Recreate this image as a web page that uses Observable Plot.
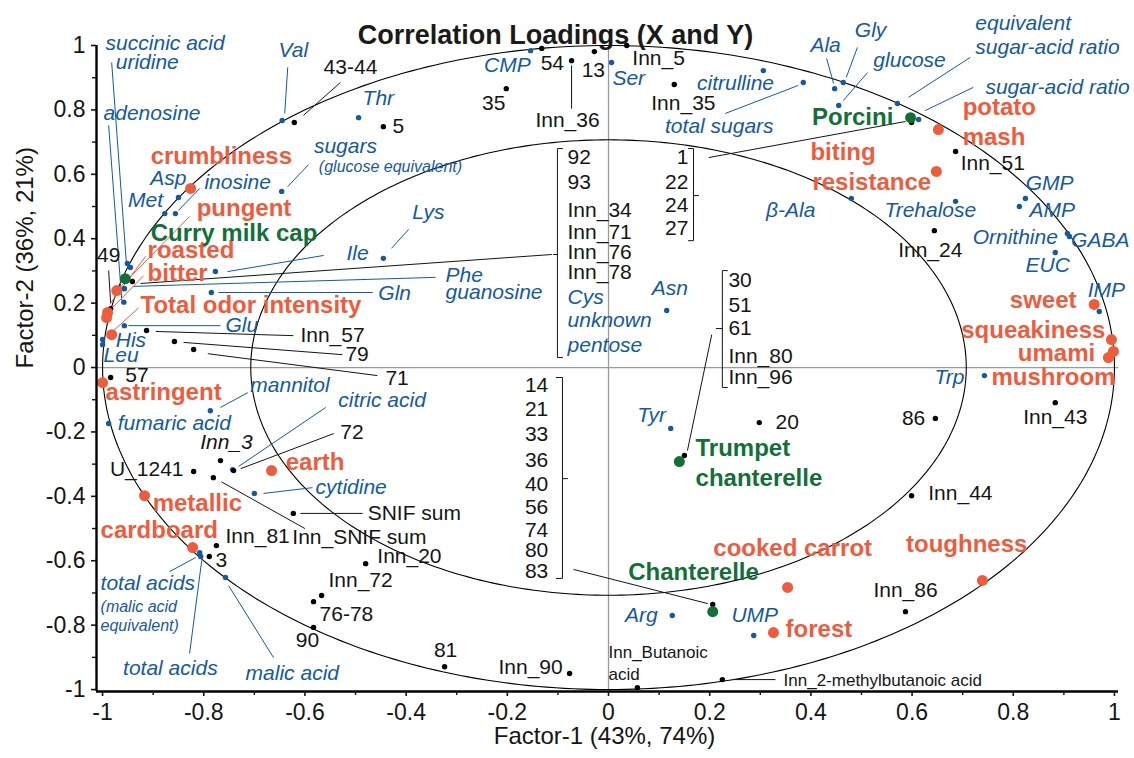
<!DOCTYPE html>
<html><head><meta charset="utf-8">
<script src="https://cdn.jsdelivr.net/npm/d3@7"></script>
<script src="https://cdn.jsdelivr.net/npm/@observablehq/plot@0.6"></script>
<style>body{margin:0;background:#fff;} #chart svg{display:block;}</style>
</head><body><div id="chart"></div>
<script>
// ---------- DATA (Factor-1, Factor-2 loadings) ----------
const compounds = [ // blue, chemical compounds
 {name:"Val",f1:-0.645,f2:0.767},{name:"Thr",f1:-0.494,f2:0.776},{name:"CMP",f1:-0.154,f2:0.984},
 {name:"Ser",f1:0.006,f2:0.947},{name:"citrulline",f1:0.306,f2:0.922},{name:"total sugars",f1:0.385,f2:0.885},
 {name:"Ala",f1:0.447,f2:0.866},{name:"Gly",f1:0.464,f2:0.885},{name:"glucose",f1:0.455,f2:0.814},
 {name:"equivalent sugar-acid ratio",f1:0.571,f2:0.820},{name:"sugar-acid ratio",f1:0.613,f2:0.770},
 {name:"β-Ala",f1:0.480,f2:0.525},{name:"Trehalose",f1:0.686,f2:0.516},{name:"GMP",f1:0.824,f2:0.525},
 {name:"AMP",f1:0.812,f2:0.500},{name:"Ornithine",f1:0.907,f2:0.416},{name:"GABA",f1:0.911,f2:0.407},
 {name:"EUC",f1:0.883,f2:0.357},{name:"IMP",f1:0.970,f2:0.174},{name:"Trp",f1:0.743,f2:-0.025},
 {name:"Asn",f1:0.115,f2:0.177},{name:"Tyr",f1:0.123,f2:-0.189},{name:"Arg",f1:0.126,f2:-0.770},
 {name:"UMP",f1:0.287,f2:-0.832},{name:"Lys",f1:-0.445,f2:0.339},{name:"sugars (glucose equivalent)",f1:-0.646,f2:0.547},
 {name:"inosine",f1:-0.856,f2:0.478},{name:"Asp",f1:-0.850,f2:0.528},{name:"Met",f1:-0.877,f2:0.478},
 {name:"succinic acid",f1:-0.945,f2:0.311},{name:"uridine",f1:-0.951,f2:0.323},{name:"adenosine",f1:-0.958,f2:0.203},
 {name:"Ile",f1:-0.777,f2:0.298},{name:"Phe",f1:-0.957,f2:0.245},{name:"guanosine",f1:-0.957,f2:0.245},
 {name:"Gln",f1:-0.785,f2:0.233},{name:"Glu",f1:-0.957,f2:0.130},{name:"His",f1:-1.0,f2:0.087},
 {name:"Leu",f1:-1.0,f2:0.071},{name:"mannitol",f1:-0.787,f2:-0.134},{name:"fumaric acid",f1:-0.988,f2:-0.174},
 {name:"citric acid",f1:-0.743,f2:-0.317},{name:"cytidine",f1:-0.700,f2:-0.391},
 {name:"total acids (malic acid equivalent)",f1:-0.808,f2:-0.575},{name:"total acids",f1:-0.806,f2:-0.587},
 {name:"malic acid",f1:-0.757,f2:-0.652}
];
const volatiles = [ // black, volatile compounds
 {name:"43-44",f1:-0.621,f2:0.761},{name:"5",f1:-0.445,f2:0.748},{name:"35",f1:-0.202,f2:0.866},
 {name:"54",f1:-0.132,f2:0.991},{name:"Inn_36",f1:-0.073,f2:0.953},{name:"13",f1:-0.028,f2:0.981},
 {name:"Inn_5",f1:0.036,f2:1.0},{name:"Inn_35",f1:0.130,f2:0.879},{name:"Inn_51",f1:0.686,f2:0.671},
 {name:"Inn_24",f1:0.644,f2:0.425},{name:"Inn_43",f1:0.883,f2:-0.109},{name:"86",f1:0.646,f2:-0.158},
 {name:"Inn_44",f1:0.599,f2:-0.398},{name:"20",f1:0.298,f2:-0.171},{name:"Inn_86",f1:0.587,f2:-0.758},
 {name:"Inn_Butanoic acid",f1:0.057,f2:-0.994},{name:"Inn_2-methylbutanoic acid",f1:0.225,f2:-0.969},
 {name:"Inn_90",f1:-0.077,f2:-0.950},{name:"81",f1:-0.324,f2:-0.929},{name:"90",f1:-0.583,f2:-0.807},
 {name:"Inn_72",f1:-0.567,f2:-0.708},{name:"76-78",f1:-0.583,f2:-0.727},{name:"Inn_20",f1:-0.480,f2:-0.609},
 {name:"SNIF sum",f1:-0.623,f2:-0.453},{name:"Inn_SNIF sum",f1:-0.781,f2:-0.342},{name:"Inn_81",f1:-0.775,f2:-0.553},
 {name:"3",f1:-0.789,f2:-0.587},{name:"U_1241",f1:-0.820,f2:-0.323},{name:"Inn_3",f1:-0.767,f2:-0.289},
 {name:"72",f1:-0.741,f2:-0.320},{name:"57",f1:-0.984,f2:-0.031},{name:"Inn_57",f1:-0.913,f2:0.115},
 {name:"79",f1:-0.858,f2:0.081},{name:"71",f1:-0.820,f2:0.056},{name:"49",f1:-0.984,f2:0.183}
];
// groups of volatiles/compounds sharing one loading position
const groupA = ["92","93","Inn_34","Inn_71","Inn_76","Inn_78"];
const groupAblue = ["Cys","unknown","pentose"];
const groupB = ["1","22","24","27"];
const groupC = ["30","51","61","Inn_80","Inn_96"];
const groupD = ["14","21","33","36","40","56","74","80","83"];
const groups = [
 {name:"A",f1:-0.941,f2:0.267},{name:"B",f1:0.599,f2:0.761},
 {name:"C",f1:0.150,f2:-0.273},{name:"D",f1:0.206,f2:-0.736}
];
const attributes = [ // red, sensory attributes
 {name:"crumbliness",f1:-0.826,f2:0.556},{name:"pungent",f1:-0.972,f2:0.239},{name:"roasted",f1:-0.990,f2:0.171},
 {name:"bitter",f1:-0.992,f2:0.155},{name:"Total odor intensity",f1:-0.982,f2:0.102},{name:"astringent",f1:-1.0,f2:-0.047},
 {name:"earth",f1:-0.666,f2:-0.320},{name:"metallic",f1:-0.917,f2:-0.398},{name:"cardboard",f1:-0.822,f2:-0.559},
 {name:"potato mash",f1:0.652,f2:0.739},{name:"biting resistance",f1:0.648,f2:0.609},{name:"sweet",f1:0.960,f2:0.196},
 {name:"squeakiness",f1:0.994,f2:0.087},{name:"umami",f1:0.998,f2:0.050},{name:"mushroom",f1:0.988,f2:0.031},
 {name:"cooked carrot",f1:0.354,f2:-0.683},{name:"forest",f1:0.326,f2:-0.823},{name:"toughness",f1:0.739,f2:-0.661}
];
const samples = [ // green, mushroom species
 {name:"Porcini",f1:0.597,f2:0.776},{name:"Curry milk cap",f1:-0.955,f2:0.276},
 {name:"Trumpet chanterelle",f1:0.140,f2:-0.292},{name:"Chanterelle",f1:0.206,f2:-0.758}
];
const xTicks = [-1,-0.8,-0.6,-0.4,-0.2,0,0.2,0.4,0.6,0.8,1];
const xMinor = [-0.9,-0.7,-0.5,-0.3,-0.1,0.1,0.3,0.5,0.7,0.9];
const yTicks = [-1,-0.8,-0.6,-0.4,-0.2,0,0.2,0.4,0.6,0.8,1];
const yMinor = [-0.9,-0.7,-0.5,-0.3,-0.1,0.1,0.3,0.5,0.7,0.9];

// ---------- ANNOTATION LAYOUT (label anchor, text-anchor, style, leader line) ----------
const labelLayout = [
 ["Val",-0.623,0.984,"middle","b",[-0.634,0.932,-0.640,0.789]],
 ["Thr",-0.455,0.835,"middle","b"],
 ["CMP",-0.200,0.938,"middle","b"],
 ["Ser",0.040,0.898,"middle","b"],
 ["citrulline",0.251,0.882,"middle","b"],
 ["total sugars",0.219,0.748,"middle","b",[0.375,0.876,0.231,0.789]],
 ["Ala",0.429,1.0,"middle","b",[0.445,0.882,0.431,0.960]],
 ["Gly",0.518,1.047,"middle","b",[0.470,0.901,0.492,0.994]],
 ["glucose",0.595,0.953,"middle","b",[0.464,0.829,0.512,0.916]],
 ["equivalent",0.725,1.068,"start","b",[0.593,0.839,0.715,0.963]],
 ["sugar-acid ratio",0.725,0.994,"start","b"],
 ["sugar-acid ratio",0.745,0.870,"start","b",[0.626,0.798,0.721,0.870]],
 ["β-Ala",0.360,0.488,"middle","b"],
 ["Trehalose",0.636,0.488,"middle","b"],
 ["GMP",0.872,0.571,"middle","b"],
 ["AMP",0.877,0.488,"middle","b"],
 ["Ornithine",0.804,0.404,"middle","b"],
 ["GABA",0.972,0.394,"middle","b"],
 ["EUC",0.868,0.317,"middle","b"],
 ["IMP",0.984,0.239,"middle","b"],
 ["Trp",0.674,-0.031,"middle","b"],
 ["Asn",0.121,0.245,"middle","b"],
 ["Tyr",0.085,-0.149,"middle","b"],
 ["Arg",0.065,-0.770,"middle","b"],
 ["UMP",0.289,-0.770,"middle","b"],
 ["Lys",-0.356,0.481,"middle","b",[-0.429,0.370,-0.395,0.429]],
 ["sugars",-0.520,0.686,"middle","b",[-0.634,0.562,-0.593,0.630]],
 ["(glucose equivalent)",-0.431,0.624,"middle","bs"],
 ["inosine",-0.733,0.575,"middle","b",[-0.850,0.488,-0.808,0.556]],
 ["Asp",-0.870,0.587,"middle","b"],
 ["Met",-0.915,0.519,"middle","b"],
 ["succinic acid",-0.994,1.006,"start","b"],
 ["uridine",-0.974,0.947,"start","b",[-0.982,0.947,-0.953,0.326]],
 ["adenosine",-0.998,0.789,"start","b",[-0.988,0.752,-0.962,0.208]],
 ["Ile",-0.496,0.354,"middle","b",[-0.753,0.298,-0.563,0.348]],
 ["Phe",-0.322,0.286,"start","b",[-0.939,0.252,-0.342,0.280]],
 ["guanosine",-0.322,0.233,"start","b"],
 ["Gln",-0.455,0.230,"start","b",[-0.771,0.233,-0.466,0.233]],
 ["Glu",-0.757,0.130,"start","b",[-0.949,0.130,-0.767,0.130]],
 ["His",-0.974,0.084,"start","b"],
 ["Leu",-0.998,0.037,"start","b"],
 ["mannitol",-0.708,-0.056,"start","b",[-0.767,-0.124,-0.713,-0.078]],
 ["fumaric acid",-0.970,-0.174,"start","b"],
 ["citric acid",-0.534,-0.102,"start","b",[-0.731,-0.307,-0.559,-0.124]],
 ["cytidine",-0.579,-0.373,"start","b",[-0.682,-0.391,-0.585,-0.373]],
 ["total acids",-1.004,-0.671,"start","b",[-0.816,-0.590,-0.868,-0.634]],
 ["(malic acid",-1.004,-0.742,"start","bs"],
 ["equivalent)",-1.004,-0.801,"start","bs"],
 ["total acids",-0.866,-0.935,"middle","b",[-0.804,-0.599,-0.828,-0.888]],
 ["malic acid",-0.625,-0.950,"middle","b",[-0.751,-0.677,-0.662,-0.901]],
 // black
 ["43-44",-0.510,0.932,"middle","k",[-0.603,0.783,-0.530,0.885]],
 ["5",-0.427,0.748,"start","k"],
 ["35",-0.227,0.820,"middle","k"],
 ["54",-0.111,0.944,"middle","k"],
 ["Inn_36",-0.081,0.767,"middle","k",[-0.073,0.938,-0.073,0.804]],
 ["13",-0.030,0.922,"middle","k"],
 ["Inn_5",0.047,0.960,"start","k"],
 ["Inn_35",0.148,0.820,"middle","k"],
 ["Inn_51",0.696,0.634,"start","k"],
 ["Inn_24",0.636,0.363,"middle","k"],
 ["Inn_43",0.883,-0.155,"middle","k"],
 ["86",0.603,-0.158,"middle","k"],
 ["Inn_44",0.632,-0.391,"start","k"],
 ["20",0.330,-0.171,"start","k"],
 ["Inn_86",0.587,-0.693,"middle","k"],
 ["Inn_Butanoic",0.0,-0.885,"start","ks"],
 ["acid",0.0,-0.953,"start","ks"],
 ["Inn_2-methylbutanoic acid",0.346,-0.972,"start","ks",[0.247,-0.969,0.330,-0.969]],
 ["Inn_90",-0.154,-0.932,"middle","k"],
 ["81",-0.322,-0.879,"middle","k"],
 ["90",-0.595,-0.848,"middle","k"],
 ["Inn_72",-0.490,-0.661,"middle","k"],
 ["76-78",-0.518,-0.767,"middle","k"],
 ["Inn_20",-0.457,-0.587,"start","k"],
 ["SNIF sum",-0.476,-0.453,"start","k",[-0.609,-0.453,-0.486,-0.453]],
 ["Inn_SNIF sum",-0.625,-0.528,"start","k",[-0.765,-0.355,-0.600,-0.500]],
 ["Inn_81",-0.757,-0.525,"start","k"],
 ["3",-0.777,-0.599,"start","k"],
 ["U_1241",-0.840,-0.317,"end","k"],
 ["Inn_3",-0.755,-0.233,"middle","ki"],
 ["72",-0.530,-0.202,"start","k",[-0.727,-0.314,-0.543,-0.205]],
 ["57",-0.955,-0.025,"start","k"],
 ["Inn_57",-0.609,0.099,"start","k",[-0.895,0.112,-0.623,0.099]],
 ["79",-0.520,0.040,"start","k",[-0.840,0.078,-0.526,0.040]],
 ["71",-0.441,-0.034,"start","k",[-0.792,0.043,-0.457,-0.025]],
 ["49",-0.988,0.348,"middle","k",[-0.988,0.301,-0.984,0.199]],
 // red
 ["crumbliness",-0.905,0.655,"start","r"],
 ["pungent",-0.814,0.494,"start","r",[-0.828,0.469,-0.966,0.248]],
 ["roasted",-0.911,0.363,"start","r",[-0.915,0.345,-0.986,0.196]],
 ["bitter",-0.911,0.292,"start","r",[-0.919,0.285,-0.988,0.174]],
 ["Total odor intensity",-0.925,0.193,"start","r",[-0.929,0.185,-0.978,0.115]],
 ["astringent",-0.994,-0.078,"start","r"],
 ["earth",-0.638,-0.295,"start","r"],
 ["metallic",-0.901,-0.422,"start","r"],
 ["cardboard",-1.004,-0.506,"start","r"],
 ["potato",0.700,0.807,"start","r"],
 ["mash",0.700,0.714,"start","r"],
 ["biting",0.399,0.668,"start","r"],
 ["resistance",0.403,0.575,"start","r"],
 ["sweet",0.925,0.208,"end","r"],
 ["squeakiness",0.982,0.115,"end","r"],
 ["umami",0.962,0.043,"end","r"],
 ["mushroom",1.002,-0.031,"end","r"],
 ["cooked carrot",0.364,-0.562,"middle","r"],
 ["forest",0.350,-0.814,"start","r"],
 ["toughness",0.708,-0.550,"middle","r"],
 // green
 ["Porcini",0.563,0.776,"end","g"],
 ["Curry milk cap",-0.905,0.416,"start","g"],
 ["Trumpet",0.172,-0.252,"start","g"],
 ["chanterelle",0.172,-0.345,"start","g"],
 ["Chanterelle",0.168,-0.637,"middle","g"]
];
// group list positions
const groupLayout = [
 {names:groupA, x:-0.081, ys:[0.652,0.575,0.488,0.419,0.357,0.295], anchor:"start", style:"k"},
 {names:groupAblue, x:-0.081, ys:[0.217,0.146,0.068], anchor:"start", style:"b"},
 {names:groupB, x:0.158, ys:[0.652,0.575,0.503,0.432], anchor:"end", style:"k"},
 {names:groupC, x:0.237, ys:[0.270,0.193,0.121,0.034,-0.031], anchor:"start", style:"k"},
 {names:groupD, x:-0.119, ys:[-0.056,-0.130,-0.208,-0.289,-0.363,-0.435,-0.506,-0.568,-0.634], anchor:"end", style:"k"}
];
const groupLeaders = [
 [-0.925,0.261,-0.112,0.351],[0.198,0.652,0.587,0.764],[0.204,0.102,0.156,-0.258],[-0.069,-0.627,0.196,-0.733]
];
const brackets = [
 [[-0.091,0.680],[-0.101,0.680],[-0.101,0.031],[-0.091,0.031]],[[-0.101,0.351],[-0.109,0.351]],
 [[0.158,0.680],[0.168,0.680],[0.168,0.394],[0.158,0.394]],[[0.168,0.534],[0.178,0.534]],
 [[0.235,0.301],[0.225,0.301],[0.225,-0.062],[0.235,-0.062]],[[0.225,0.121],[0.213,0.121]],
 [[-0.103,-0.031],[-0.091,-0.031],[-0.091,-0.655],[-0.103,-0.655]],[[-0.091,-0.345],[-0.081,-0.345]]
];

// ---------- BUILD ----------
const blue = "#1259a6", red = "#f15b3b", green = "#117036", ink = "#151515";
const styles = {
 b:{fill:blue,fontSize:21,fontStyle:"italic",line:blue},
 bs:{fill:blue,fontSize:16,fontStyle:"italic",line:blue},
 k:{fill:ink,fontSize:21,line:ink},
 ki:{fill:ink,fontSize:21,fontStyle:"italic",line:ink},
 ks:{fill:ink,fontSize:17,line:ink},
 r:{fill:red,fontSize:24,fontWeight:"bold",line:red},
 g:{fill:green,fontSize:24,fontWeight:"bold",line:green}
};
const labels = labelLayout.map(([t,x,y,anchor,style,line]) => ({t,x,y,anchor,style,line}));
groupLayout.forEach(g => g.names.forEach((n,i) => labels.push({t:n,x:g.x,y:g.ys[i],anchor:g.anchor,style:g.style})));
const leaders = labels.filter(d => d.line).map(d => ({x1:d.line[0],y1:d.line[1],x2:d.line[2],y2:d.line[3],stroke:styles[d.style].line}));
groupLeaders.forEach(l => leaders.push({x1:l[0],y1:l[1],x2:l[2],y2:l[3],stroke:ink}));

const circle = r => d3.range(0, 362, 1).map(a => ({x:r*Math.cos(a*Math.PI/180), y:r*Math.sin(a*Math.PI/180)}));
const textMarks = [];
for (const s of Object.keys(styles)) for (const a of ["start","middle","end"]) {
  const sub = labels.filter(d => d.style === s && d.anchor === a);
  if (!sub.length) continue;
  const st = styles[s];
  textMarks.push(Plot.text(sub, {x:"x", y:"y", text:"t", textAnchor:a, fill:st.fill, fontSize:st.fontSize,
    fontStyle:st.fontStyle || "normal", fontWeight:st.fontWeight || "normal"}));
}
const fmt = d => Math.abs(d) < 1e-9 ? "0" : String(Math.round(d*10)/10);
const X0 = -1.012, X1 = 1.008, Y0 = -1.006, Y1 = 1.0;

const chart = Plot.plot({
  width:1134, height:758, marginLeft:96, marginRight:16, marginTop:45, marginBottom:67,
  x:{domain:[X0,X1]}, y:{domain:[Y0,Y1]},
  style:{fontFamily:"'Liberation Sans', Arial, Helvetica, sans-serif", background:"white", color:ink},
  marks:[
    Plot.ruleX([0], {stroke:"#9a9a9a", strokeWidth:1.3}),
    Plot.ruleY([0], {stroke:"#9a9a9a", strokeWidth:1.3}),
    Plot.line(circle(1), {x:"x", y:"y", stroke:"black", strokeWidth:1.1}),
    Plot.line(circle(Math.SQRT1_2), {x:"x", y:"y", stroke:"black", strokeWidth:1.1}),
    Plot.link(leaders, {x1:"x1", y1:"y1", x2:"x2", y2:"y2", stroke:d => d.stroke, strokeWidth:1}),
    ...brackets.map(b => Plot.line(b, {x:d => d[0], y:d => d[1], stroke:ink, strokeWidth:1})),
    Plot.dot(compounds, {x:"f1", y:"f2", r:2.7, fill:blue}),
    Plot.dot(volatiles, {x:"f1", y:"f2", r:2.7, fill:"black"}),
    Plot.dot(groups, {x:"f1", y:"f2", r:2.7, fill:"black"}),
    Plot.dot(attributes, {x:"f1", y:"f2", r:5.5, fill:red}),
    Plot.dot(samples, {x:"f1", y:"f2", r:5.5, fill:green}),
    ...textMarks,
    Plot.ruleX([X0], {stroke:"black", strokeWidth:2.4}),
    Plot.ruleY([Y0], {stroke:"black", strokeWidth:2.4}),
    Plot.axisX({ticks:xTicks, tickFormat:fmt, tickSize:5, tickPadding:7, fontSize:23, strokeWidth:1.6, label:null}),
    Plot.axisX({ticks:xMinor, tickFormat:() => "", tickSize:4, strokeWidth:1.4, label:null}),
    Plot.axisY({ticks:yTicks, tickFormat:fmt, tickSize:5, tickPadding:6, fontSize:23, strokeWidth:1.6, label:null}),
    Plot.axisY({ticks:yMinor, tickFormat:() => "", tickSize:4, strokeWidth:1.4, label:null}),
    Plot.text(["Factor-1 (43%, 74%)"], {text:d => d, frameAnchor:"bottom", dy:52, dx:-3, fontSize:24, fill:ink}),
    Plot.text(["Factor-2 (36%, 21%)"], {text:d => d, frameAnchor:"left", dx:-71, rotate:-90, fontSize:24, fill:ink}),
    Plot.text(["Correlation Loadings (X and Y)"], {text:d => d, frameAnchor:"top", dy:-21, dx:-52, fontSize:27, fontWeight:"bold", fill:"#1a1a1a"})
  ]
});
document.getElementById("chart").appendChild(chart);
</script></body></html>
